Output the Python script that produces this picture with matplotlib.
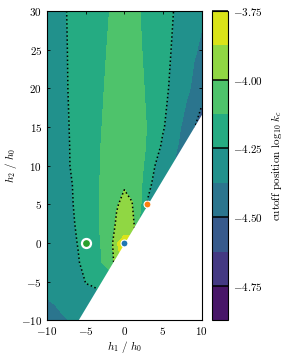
import numpy as np
import matplotlib
matplotlib.use("Agg")
import matplotlib.pyplot as plt
from matplotlib.ticker import FuncFormatter

# Computer Modern look
plt.rcParams['font.family'] = 'serif'
plt.rcParams['font.serif'] = ['cmr10']
plt.rcParams['mathtext.fontset'] = 'cm'
plt.rcParams['axes.formatter.use_mathtext'] = True
plt.rcParams['font.size'] = 8

# grid of the field (h1 columns, h2 rows)
h1 = np.arange(-10, 11)
h2 = np.array([-10, -7.5, -5, -2.5, 0, 2.5, 5, 7.5, 10, 12.5, 15, 20, 25, 30])

log_kc = np.array([
    [-4.44, -4.42, -4.395, -4.37, -4.30, -4.33, -4.32, -4.30, -4.28, -4.26, -4.24, -4.28, -4.32, -4.36, -4.40, -4.44, -4.48, -4.52, -4.56, -4.60, -4.64],
    [-4.38, -4.365, -4.335, -4.305, -4.285, -4.27, -4.32, -4.30, -4.26, -4.22, -4.18, -4.22, -4.28, -4.33, -4.38, -4.42, -4.46, -4.50, -4.54, -4.58, -4.62],
    [-4.36, -4.345, -4.33, -4.305, -4.28, -4.248, -4.225, -4.20, -4.20, -4.15, -4.10, -4.15, -4.22, -4.28, -4.34, -4.40, -4.45, -4.50, -4.55, -4.60, -4.65],
    [-4.357, -4.345, -4.33, -4.295, -4.26, -4.21, -4.17, -4.13, -4.08, -3.95, -3.82, -3.97, -4.10, -4.20, -4.30, -4.38, -4.43, -4.48, -4.53, -4.58, -4.63],
    [-4.355, -4.34, -4.32, -4.283, -4.246, -4.203, -4.16, -4.122, -4.114, -3.88, -3.84, -3.83, -4.15, -4.30, -4.40, -4.45, -4.50, -4.55, -4.60, -4.65, -4.70],
    [-4.352, -4.335, -4.31, -4.272, -4.235, -4.193, -4.152, -4.117, -4.075, -3.985, -3.93, -3.95, -4.14, -4.30, -4.38, -4.43, -4.48, -4.53, -4.58, -4.63, -4.68],
    [-4.35, -4.325, -4.30, -4.264, -4.228, -4.19, -4.155, -4.118, -4.07, -4.01, -3.97, -3.995, -4.10, -4.26, -4.32, -4.38, -4.43, -4.48, -4.53, -4.58, -4.63],
    [-4.35, -4.323, -4.296, -4.26, -4.225, -4.19, -4.154, -4.118, -4.075, -4.035, -4.01, -4.03, -4.09, -4.22, -4.28, -4.33, -4.38, -4.43, -4.48, -4.53, -4.58],
    [-4.346, -4.314, -4.282, -4.249, -4.218, -4.186, -4.154, -4.122, -4.085, -4.05, -4.03, -4.04, -4.085, -4.17, -4.252, -4.31, -4.36, -4.41, -4.46, -4.51, -4.56],
    [-4.341, -4.31, -4.279, -4.248, -4.218, -4.187, -4.156, -4.124, -4.09, -4.055, -4.04, -4.05, -4.08, -4.14, -4.205, -4.27, -4.33, -4.38, -4.44, -4.50, -4.56],
    [-4.334, -4.305, -4.275, -4.246, -4.216, -4.187, -4.157, -4.128, -4.10, -4.068, -4.055, -4.065, -4.095, -4.13, -4.187, -4.24, -4.29, -4.357, -4.417, -4.49, -4.57],
    [-4.322, -4.295, -4.269, -4.242, -4.215, -4.189, -4.162, -4.136, -4.109, -4.085, -4.072, -4.085, -4.109, -4.137, -4.18, -4.221, -4.261, -4.307, -4.352, -4.397, -4.44],
    [-4.315, -4.29, -4.266, -4.241, -4.216, -4.192, -4.167, -4.143, -4.118, -4.095, -4.083, -4.095, -4.117, -4.146, -4.182, -4.216, -4.248, -4.288, -4.326, -4.364, -4.39],
    [-4.307, -4.285, -4.262, -4.24, -4.217, -4.195, -4.172, -4.149, -4.127, -4.105, -4.095, -4.105, -4.124, -4.154, -4.183, -4.211, -4.239, -4.269, -4.299, -4.33, -4.36],
])

levels = np.arange(-4.875, -3.74, 0.125)
line_levels = [-4.75, -4.5, -4.25, -4.0, -3.75]
cbar_ticks = [-4.75, -4.5, -4.25, -4.0, -3.75]

# excluded region: h2 < slope * h1
boundary_slope = 5 / 3

# special points
pt_h1 = [-5, 0, 3]
pt_h2 = [0, 0, 5]
pt_colors = ['C2', 'C0', 'C1']
pt_sizes = [6.5, 5, 5]
pt_edge = [1.6, 0.8, 0.8]

fig = plt.figure(figsize=(2.82, 3.58), dpi=100)
ax = fig.add_axes([46.3 / 282, 37.7 / 358, 156 / 282, 309.3 / 358])
cax = fig.add_axes([211.5 / 282, 37.7 / 358, 16 / 282, 309.3 / 358])

cf = ax.contourf(h1, h2, log_kc, levels=levels, cmap='viridis')
cs = ax.contour(h1, h2, log_kc, levels=line_levels, colors='k',
                linestyles=':', linewidths=1.1)

# white out the forbidden wedge
xb = np.array([h2[0] / boundary_slope, h1[-1]])
ax.fill_between(xb, boundary_slope * xb, h2[0], color='white', lw=0, zorder=2)

for x, y, c, s, e in zip(pt_h1, pt_h2, pt_colors, pt_sizes, pt_edge):
    ax.plot(x, y, 'o', color=c, ms=s, mec='white', mew=e, zorder=3)

ax.set_xlim(-10, 10)
ax.set_ylim(-10, 30)
ax.set_aspect('equal')
ax.set_xticks([-10, -5, 0, 5, 10])
ax.set_yticks(np.arange(-10, 31, 5))
fmt = FuncFormatter(lambda v, p: rf'${v:g}$')
ax.xaxis.set_major_formatter(fmt)
ax.yaxis.set_major_formatter(fmt)
ax.tick_params(direction='in', top=True, right=True, length=2.5, width=0.6, labelsize=8)
for sp in ax.spines.values():
    sp.set_linewidth(0.8)
ax.set_xlabel(r'$h_1\ /\ h_0$', fontsize=8, labelpad=1)
ax.set_ylabel(r'$h_2\ /\ h_0$', fontsize=8, labelpad=1)

cbar = fig.colorbar(cf, cax=cax, ticks=cbar_ticks)
cbar.add_lines(cs)
cbar.ax.yaxis.set_major_formatter(FuncFormatter(lambda v, p: rf'${v:.2f}$'))
cbar.ax.tick_params(length=0, labelsize=8, pad=4)
cbar.outline.set_linewidth(0.8)
cbar.set_label(r'cutoff position $\log_{10}\,k_c$', fontsize=8)

fig.savefig('out.png', dpi=100)
